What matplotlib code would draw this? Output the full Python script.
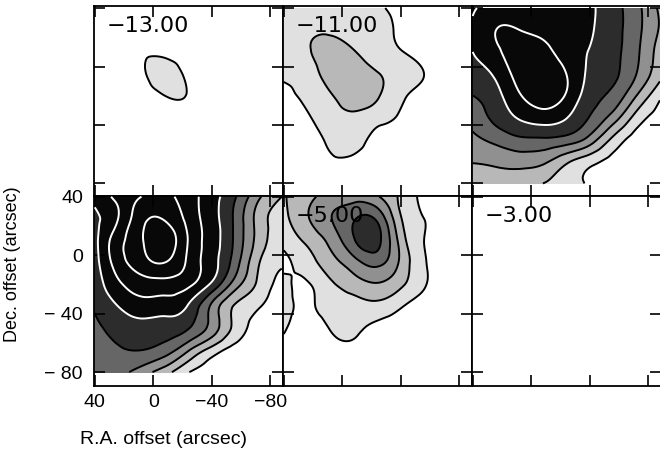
import numpy as np
import matplotlib.pyplot as plt
import matplotlib.tri as mtri

plt.rcParams['font.family'] = ['Liberation Sans', 'DejaVu Sans']

ra = [40, 24, 8, -8, -24, -40, -56, -72, -88]
dec = [40, 25, 10, -5, -20, -35, -50, -65, -80]

# intensities in units of the lowest contour, rows follow dec, columns follow ra
chan_m13 = [
    [0.1, 0.1, 0.2, 0.2, 0.1, 0.1, 0.1, 0.1, 0.1],
    [0.1, 0.2, 0.3, 0.35, 0.25, 0.1, 0.1, 0.1, 0.1],
    [0.1, 0.3, 0.8, 0.75, 0.4, 0.2, 0.1, 0.1, 0.1],
    [0.1, 0.3, 0.8, 1.5, 0.75, 0.3, 0.1, 0.1, 0.1],
    [0.1, 0.2, 0.45, 1.0, 0.95, 0.35, 0.1, 0.1, 0.1],
    [0.1, 0.1, 0.3, 0.45, 0.45, 0.2, 0.1, 0.1, 0.1],
    [0.1, 0.1, 0.1, 0.1, 0.1, 0.1, 0.1, 0.1, 0.1],
    [0.1, 0.1, 0.1, 0.1, 0.1, 0.1, 0.1, 0.1, 0.1],
    [0.1, 0.1, 0.1, 0.1, 0.1, 0.1, 0.1, 0.1, 0.1],
]
chan_m11 = [
    [1.3, 1.3, 1.5, 1.4, 1.1, 0.8, 0.5, 0.3, 0.2],
    [1.4, 1.8, 1.9, 1.6, 1.3, 0.85, 0.5, 0.3, 0.2],
    [1.3, 1.9, 2.3, 2.05, 1.5, 1.05, 0.65, 0.3, 0.2],
    [1.1, 1.5, 2.4, 2.5, 2.05, 1.5, 1.0, 0.5, 0.3],
    [0.8, 1.2, 1.9, 2.5, 2.1, 1.2, 0.7, 0.4, 0.2],
    [0.5, 0.9, 1.5, 1.8, 1.35, 0.9, 0.5, 0.3, 0.2],
    [0.3, 0.6, 1.2, 1.4, 0.7, 0.6, 0.3, 0.2, 0.1],
    [0.2, 0.4, 0.85, 0.8, 0.5, 0.3, 0.2, 0.1, 0.1],
    [0.1, 0.2, 0.4, 0.4, 0.3, 0.2, 0.1, 0.1, 0.1],
]
chan_m9 = [
    [5.9, 6.4, 6.7, 6.7, 6.5, 6.15, 5.4, 4.3, 2.8],
    [6.1, 7.0, 7.0, 6.8, 6.5, 6.1, 5.4, 4.3, 2.9],
    [6.0, 6.8, 7.5, 7.3, 6.6, 5.95, 5.3, 4.2, 2.5],
    [5.6, 6.2, 7.4, 7.6, 7.0, 5.8, 5.2, 4.0, 2.3],
    [5.0, 5.7, 6.9, 7.5, 6.9, 5.5, 4.7, 3.0, 1.2],
    [4.3, 5.3, 6.1, 6.5, 6.05, 4.95, 3.55, 1.6, 0.6],
    [3.8, 4.3, 4.8, 4.85, 4.6, 3.6, 1.75, 0.6, 0.3],
    [3.05, 3.2, 3.4, 3.2, 2.2, 1.35, 0.7, 0.3, 0.2],
    [2.6, 2.6, 2.4, 2.0, 1.5, 0.85, 0.4, 0.2, 0.1],
]
chan_m7 = [
    [6.3, 7.3, 8.0, 8.2, 7.5, 6.4, 5.1, 3.2, 2.0],
    [5.8, 7.0, 8.7, 8.9, 7.7, 6.4, 4.8, 2.6, 1.6],
    [5.7, 7.6, 8.9, 9.6, 7.95, 6.5, 4.8, 2.6, 1.4],
    [5.6, 7.5, 8.6, 9.0, 7.8, 6.4, 4.5, 2.1, 1.15],
    [5.4, 6.8, 7.5, 7.6, 7.2, 5.8, 3.5, 1.8, 0.6],
    [5.1, 6.0, 6.6, 6.5, 5.9, 3.8, 1.9, 1.1, 0.3],
    [4.8, 5.3, 5.6, 5.5, 5.05, 3.6, 1.7, 0.5, 0.2],
    [4.5, 4.9, 5.0, 4.5, 3.1, 1.6, 0.6, 0.2, 0.1],
    [4.2, 4.3, 3.5, 2.4, 1.05, 0.5, 0.2, 0.1, 0.1],
]
chan_m5 = [
    [1.9, 2.7, 3.4, 3.6, 3.1, 1.8, 0.8, 0.4, 0.2],
    [1.7, 2.9, 3.95, 4.9, 4.8, 2.1, 1.0, 0.5, 0.2],
    [1.3, 2.2, 3.3, 4.9, 5.3, 2.6, 1.0, 0.5, 0.2],
    [0.8, 1.5, 2.6, 3.6, 4.3, 2.8, 1.1, 0.5, 0.2],
    [1.25, 0.92, 1.8, 2.5, 2.9, 2.2, 1.1, 0.4, 0.2],
    [1.35, 0.85, 1.4, 1.6, 1.7, 1.1, 0.5, 0.3, 0.1],
    [1.15, 0.55, 1.05, 1.2, 0.7, 0.4, 0.2, 0.1, 0.1],
    [0.5, 0.3, 0.6, 0.7, 0.2, 0.2, 0.2, 0.1, 0.1],
    [0.2, 0.2, 0.2, 0.2, 0.2, 0.2, 0.2, 0.1, 0.1],
]
chan_m3 = None  # no emission above the first contour

velocities = ['\u221213.00', '\u221211.00', '\u22129.00',
              '\u22127.00', '\u22125.00', '\u22123.00']
channels = [chan_m13, chan_m11, chan_m9, chan_m7, chan_m5, chan_m3]
# in the darkest channels the label disappears under the black fill
label_hidden = [False, False, True, True, False, False]

fill_levels = [1, 2, 3, 4, 5, 6, 20]
fill_colors = ['#e0e0e0', '#b8b8b8', '#909090', '#666666', '#2c2c2c', '#080808']
black_lines = [1, 2, 3, 4, 5]
white_lines = [6, 7, 8, 9]

W, H = 660, 455
fig = plt.figure(figsize=(W / 100, H / 100), dpi=100)

lefts = [94, 283, 472]
tops = [6, 196]
ylims = [(-88.6, 41.4), (-89.5, 40.5)]

RA, DEC = np.meshgrid(ra, dec)
tri = mtri.Triangulation(RA.ravel(), DEC.ravel())
refiner = mtri.UniformTriRefiner(tri)

for i, (vel, chan) in enumerate(zip(velocities, channels)):
    r, c = divmod(i, 3)
    ax = fig.add_axes([lefts[c] / W, 1 - (tops[r] + 190) / H, 189 / W, 190 / H])
    if chan is not None:
        tri_f, z_f = refiner.refine_field(np.array(chan).ravel(), subdiv=4)
        ax.tricontourf(tri_f, z_f, levels=fill_levels, colors=fill_colors, zorder=1)
        ax.tricontour(tri_f, z_f, levels=black_lines, colors='k', linewidths=1.4, zorder=3)
        ax.tricontour(tri_f, z_f, levels=white_lines, colors='w', linewidths=1.4, zorder=3)
    ax.set_xlim(40.5, -88.8)
    ax.set_ylim(*ylims[r])
    ax.set_xticks([40, 0, -40, -80])
    ax.set_yticks([40, 0, -40, -80])
    ax.tick_params(direction='in', length=8, width=1.2, top=True, right=True,
                   labelbottom=False, labelleft=False, labelsize=14)
    for sp in ax.spines.values():
        sp.set_linewidth(1.3)
    ax.text(0.069, 0.863, vel, transform=ax.transAxes, fontsize=16,
            family='DejaVu Sans', va='baseline', ha='left', color='k',
            zorder=0.5 if label_hidden[i] else 4)
    if i == 3:
        ax.tick_params(labelbottom=True, labelleft=True, pad=6)
        ax.set_xticklabels(['40', '0', '\u221240', '\u221280'])
        ax.set_yticklabels(['40', '0', '\u2212 40', '\u2212 80'])
        ax.tick_params(axis='y', pad=8)

fig.text(164 / W, 1 - 440 / H, 'R.A. offset (arcsec)', ha='center', va='center', fontsize=14)
fig.text(13 / W, 1 - 264 / H, 'Dec. offset (arcsec)', ha='center', va='center',
         rotation=90, fontsize=13)

fig.savefig('out.png', dpi=100)
